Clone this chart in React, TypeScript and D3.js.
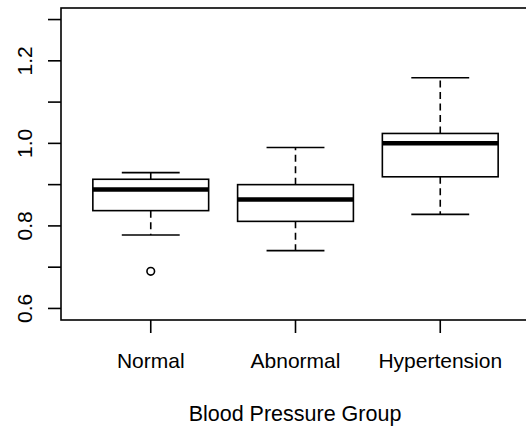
import React from "react";
import * as d3 from "d3";

const categories = ["Normal", "Abnormal", "Hypertension"];
const whiskerLow = [0.778, 0.74, 0.828];
const q1 = [0.837, 0.811, 0.919];
const medians = [0.888, 0.864, 1.0];
const q3 = [0.913, 0.9, 1.024];
const whiskerHigh = [0.929, 0.99, 1.159];
const outliers = [[0.69], [], []];
const yTicks = [0.6, 0.7, 0.8, 0.9, 1.0, 1.1, 1.2, 1.3];
const yLabelTicks = [0.6, 0.8, 1.0, 1.2];
const xTitle = "Blood Pressure Group";

export default function App() {
  const W = 526, H = 431;
  const left = 61, top = 8, bottom = 320, right = 530;
  const x = d3.scaleLinear().domain([0.38, 3.62]).range([left, right]);
  const y = d3.scaleLinear().domain([0.572, 1.328]).range([bottom, top]);
  const unit = x(1) - x(0);
  const boxHalf = 0.4 * unit;
  const capHalf = 0.2 * unit;
  const font = "'Liberation Sans', Arial, Helvetica, sans-serif";
  const sw = 1.6;

  return (
    <svg
      width={W}
      height={H}
      style={{ position: "absolute", left: 0, top: 0, background: "#fff" }}
      fontFamily={font}
    >
      <rect x={left} y={top} width={right - left} height={bottom - top} fill="none" stroke="#000" strokeWidth={sw} />

      {yTicks.map((t) => (
        <line key={t} x1={left - 13} x2={left} y1={y(t)} y2={y(t)} stroke="#000" strokeWidth={sw} />
      ))}
      {yLabelTicks.map((t) => (
        <text
          key={t}
          transform={`translate(${31.5},${y(t)}) rotate(-90)`}
          textAnchor="middle"
          fontSize={21}
          fill="#000"
        >
          {d3.format(".1f")(t)}
        </text>
      ))}

      {categories.map((c, i) => (
        <g key={c}>
          <line x1={x(i + 1)} x2={x(i + 1)} y1={bottom} y2={bottom + 13} stroke="#000" strokeWidth={sw} />
          <text x={x(i + 1)} y={368} textAnchor="middle" fontSize={21} fill="#000">
            {c}
          </text>
        </g>
      ))}
      <text x={295} y={421} textAnchor="middle" fontSize={21.5} fill="#000">
        {xTitle}
      </text>

      {categories.map((c, i) => {
        const cx = x(i + 1);
        return (
          <g key={c}>
            <line x1={cx} x2={cx} y1={y(q3[i])} y2={y(whiskerHigh[i])} stroke="#000" strokeWidth={sw} strokeDasharray="7 4.5" />
            <line x1={cx} x2={cx} y1={y(q1[i])} y2={y(whiskerLow[i])} stroke="#000" strokeWidth={sw} strokeDasharray="7 4.5" />
            <line x1={cx - capHalf} x2={cx + capHalf} y1={y(whiskerHigh[i])} y2={y(whiskerHigh[i])} stroke="#000" strokeWidth={sw} />
            <line x1={cx - capHalf} x2={cx + capHalf} y1={y(whiskerLow[i])} y2={y(whiskerLow[i])} stroke="#000" strokeWidth={sw} />
            <rect
              x={cx - boxHalf}
              y={y(q3[i])}
              width={2 * boxHalf}
              height={y(q1[i]) - y(q3[i])}
              fill="#fff"
              stroke="#000"
              strokeWidth={sw}
            />
            <line x1={cx - boxHalf} x2={cx + boxHalf} y1={y(medians[i])} y2={y(medians[i])} stroke="#000" strokeWidth={4.5} />
            {outliers[i].map((o, j) => (
              <circle key={j} cx={cx} cy={y(o)} r={3.8} fill="none" stroke="#000" strokeWidth={1.6} />
            ))}
          </g>
        );
      })}
    </svg>
  );
}
